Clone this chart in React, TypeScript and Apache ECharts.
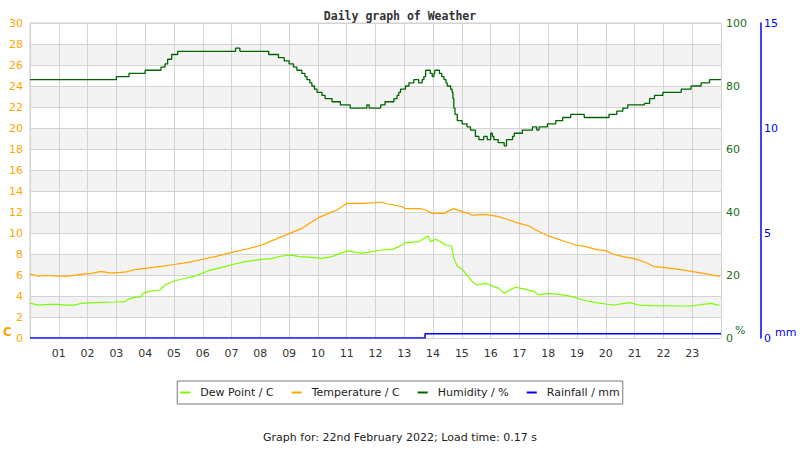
import React, { useEffect, useRef } from "react";
import * as echarts from "echarts";

const title = "Daily graph of Weather";
const footer = "Graph for: 22nd February 2022; Load time: 0.17 s";
const seriesNames = ["Dew Point / C", "Temperature / C", "Humidity / %", "Rainfall / mm"];

// [hour of day, value]
const dewPoint: [number, number][] = [
  [0, 3.3], [0.1, 3.25], [0.28, 3.14], [0.65, 3.2], [0.97, 3.2], [1.2, 3.14], [1.55, 3.14],
  [1.78, 3.3], [2.1, 3.35], [2.48, 3.4], [2.94, 3.43], [3.29, 3.46], [3.4, 3.68], [3.63, 3.87],
  [3.86, 3.94], [3.92, 4.25], [4.11, 4.41], [4.51, 4.57], [4.69, 5.05], [4.92, 5.36], [5.27, 5.62],
  [5.73, 5.9], [6.2, 6.41], [6.66, 6.73], [7.12, 7.05], [7.47, 7.27], [8.06, 7.49], [8.4, 7.59],
  [8.75, 7.81], [9.1, 7.9], [9.33, 7.75], [9.79, 7.68], [10.14, 7.59], [10.49, 7.75], [10.83, 8.13],
  [11.06, 8.29], [11.53, 8.06], [11.88, 8.22], [12.22, 8.38], [12.58, 8.44], [12.81, 8.7],
  [13.04, 9.08], [13.5, 9.17], [13.68, 9.49], [13.83, 9.71], [13.91, 9.17], [14.09, 9.4],
  [14.26, 9.17], [14.43, 8.86], [14.64, 8.76], [14.72, 7.59], [14.84, 6.86], [15.01, 6.54],
  [15.18, 6.0], [15.36, 5.36], [15.53, 5.05], [15.82, 5.2], [15.99, 5.05], [16.11, 4.89],
  [16.28, 4.73], [16.47, 4.25], [16.7, 4.63], [16.87, 4.83], [17.22, 4.63], [17.51, 4.41],
  [17.68, 4.1], [18.03, 4.25], [18.5, 4.1], [18.84, 3.94], [19.19, 3.62], [19.65, 3.37],
  [20.0, 3.24], [20.3, 3.14], [20.65, 3.3], [20.82, 3.37], [21.16, 3.14], [21.63, 3.08],
  [22.56, 3.05], [22.96, 3.05], [23.37, 3.2], [23.66, 3.3], [23.94, 3.1],
];

const temperature: [number, number][] = [
  [0, 6.1], [0.15, 6.0], [0.28, 5.9], [0.6, 5.95], [0.97, 5.9], [1.3, 5.9], [1.55, 5.97],
  [1.72, 6.06], [2.13, 6.16], [2.42, 6.32], [2.6, 6.3], [2.7, 6.2], [2.94, 6.2], [3.35, 6.3],
  [3.58, 6.48], [3.98, 6.63], [4.5, 6.8], [5.0, 7.0], [5.5, 7.2], [6.0, 7.5], [6.5, 7.8],
  [7.0, 8.15], [7.5, 8.45], [8.06, 8.86], [8.4, 9.27], [8.75, 9.65], [9.1, 10.06], [9.44, 10.44],
  [9.79, 11.08], [10.02, 11.46], [10.37, 11.87], [10.66, 12.19], [10.83, 12.5], [11.01, 12.83],
  [11.53, 12.83], [12.0, 12.9], [12.22, 12.95], [12.41, 12.76], [12.64, 12.67], [12.93, 12.5],
  [13.04, 12.32], [13.56, 12.32], [13.74, 12.19], [13.97, 11.87], [14.38, 11.87], [14.55, 12.13],
  [14.72, 12.32], [14.9, 12.13], [15.13, 11.94], [15.36, 11.71], [15.82, 11.78], [16.28, 11.56],
  [16.64, 11.24], [16.99, 10.92], [17.34, 10.67], [17.57, 10.29], [17.92, 9.81], [18.26, 9.49],
  [18.61, 9.17], [18.96, 8.86], [19.31, 8.7], [19.65, 8.44], [20.0, 8.32], [20.24, 8.0],
  [20.59, 7.75], [21.0, 7.56], [21.41, 7.17], [21.69, 6.79], [21.98, 6.73], [22.56, 6.54],
  [23.02, 6.32], [23.49, 6.1], [23.96, 5.87],
];

// humidity levels, each holding from its hour until the next one
const humidity: [number, number][] = [
  [0, 82], [3.0, 83], [3.44, 84], [4.0, 85], [4.55, 86], [4.69, 87], [4.78, 88.5], [4.92, 90],
  [5.13, 91], [7.14, 92], [7.29, 91], [8.29, 90], [8.63, 89], [8.83, 88], [9.0, 87], [9.15, 86],
  [9.27, 85], [9.44, 84], [9.55, 83], [9.62, 82], [9.72, 81], [9.79, 80], [9.88, 79], [9.97, 78],
  [10.14, 77], [10.25, 76], [10.49, 75], [10.78, 74], [11.12, 73], [11.7, 74], [11.78, 73],
  [12.18, 74], [12.33, 75], [12.64, 76], [12.75, 77], [12.81, 78], [12.87, 79], [13.04, 80],
  [13.16, 81], [13.33, 82], [13.5, 81], [13.62, 82], [13.68, 83], [13.74, 85], [13.9, 84],
  [13.97, 83], [14.03, 84], [14.06, 85], [14.22, 84], [14.3, 83], [14.38, 82], [14.45, 81],
  [14.49, 80], [14.61, 79], [14.66, 78], [14.69, 76], [14.72, 73], [14.76, 71], [14.84, 69],
  [15.01, 68], [15.18, 67], [15.3, 66], [15.47, 64], [15.59, 63], [15.76, 64], [15.88, 63],
  [16.0, 65], [16.06, 64], [16.11, 63], [16.26, 62], [16.47, 61], [16.55, 63], [16.76, 64],
  [16.82, 65], [17.1, 66], [17.45, 67], [17.6, 66], [17.68, 67], [17.97, 68], [18.26, 69],
  [18.5, 70], [18.78, 71], [19.25, 70], [20.0, 70], [20.11, 71], [20.38, 72], [20.59, 73],
  [20.76, 74], [21.34, 74.5], [21.52, 76], [21.69, 77], [21.98, 78], [22.62, 79], [22.96, 80],
  [23.31, 81], [23.6, 82], [24, 82],
];

const rainfall: [number, number][] = [
  [0, 0], [13.72, 0.2], [24, 0.2],
];

const hourTicks = ["01", "02", "03", "04", "05", "06", "07", "08", "09", "10", "11", "12",
  "13", "14", "15", "16", "17", "18", "19", "20", "21", "22", "23"];

const FONT = "DejaVu Sans";

export default function App() {
  const ref = useRef<HTMLDivElement>(null);
  useEffect(() => {
    if (!ref.current) return;
    const chart = echarts.init(ref.current, undefined, { renderer: "svg" });
    chart.setOption({
      animation: false,
      backgroundColor: "#ffffff",
      title: {
        text: title,
        left: "center",
        top: 5,
        textStyle: { fontFamily: "DejaVu Sans Mono", fontWeight: "bold", fontSize: 11.5, color: "#333" },
      },
      grid: { left: 30, right: 79, top: 23, bottom: 112, show: true, borderColor: "#cccccc", borderWidth: 1, backgroundColor: "transparent" },
      legend: {
        data: seriesNames,
        left: "center",
        top: 381,
        icon: "rect",
        itemWidth: 10,
        itemHeight: 2,
        itemGap: 18,
        padding: [6, 3, 6, 3],
        borderColor: "#777",
        borderWidth: 1,
        textStyle: { fontFamily: FONT, fontSize: 11, color: "#222", padding: [0, 0, 0, 5] },
      },
      xAxis: {
        type: "value",
        min: 0,
        max: 24,
        interval: 1,
        axisLine: { show: false },
        axisTick: { show: false },
        axisLabel: {
          fontFamily: FONT,
          fontSize: 11,
          color: "#333",
          margin: 10,
          formatter: (v: number) => (v >= 1 && v <= 23 ? hourTicks[v - 1] : ""),
        },
        splitLine: { show: true, lineStyle: { color: "#d3d3d3", width: 1 } },
      },
      yAxis: [
        {
          type: "value",
          min: 0,
          max: 30,
          interval: 2,
          position: "left",
          axisLine: { show: false },
          axisTick: { show: false },
          axisLabel: { fontFamily: FONT, fontSize: 11, color: "#ffa500", margin: 7 },
          splitLine: { show: true, lineStyle: { color: "#d3d3d3", width: 1 } },
          splitArea: { show: true, areaStyle: { color: ["#ffffff", "#f3f3f3"] } },
        },
        {
          type: "value",
          min: 0,
          max: 100,
          interval: 20,
          position: "right",
          axisLine: { show: false },
          axisTick: { show: false },
          axisLabel: { fontFamily: FONT, fontSize: 11, color: "#1a6e1a", margin: 5 },
          splitLine: { show: false },
        },
        {
          type: "value",
          min: 0,
          max: 15,
          interval: 5,
          position: "right",
          offset: 40,
          axisLine: { show: true, lineStyle: { color: "#0000ff", width: 1.5 } },
          axisTick: { show: false },
          axisLabel: { fontFamily: FONT, fontSize: 11, color: "#0000ff", margin: 3 },
          splitLine: { show: false },
        },
      ],
      series: [
        {
          name: seriesNames[0], type: "line", yAxisIndex: 0, data: dewPoint, showSymbol: false,
          color: "#7cfc00", lineStyle: { width: 1.2, color: "#7cfc00" },
        },
        {
          name: seriesNames[1], type: "line", yAxisIndex: 0, data: temperature, showSymbol: false,
          color: "#ffa500", lineStyle: { width: 1.2, color: "#ffa500" },
        },
        {
          name: seriesNames[2], type: "line", yAxisIndex: 1, data: humidity, showSymbol: false, step: "end",
          color: "#006400", lineStyle: { width: 1.3, color: "#006400" },
        },
        {
          name: seriesNames[3], type: "line", yAxisIndex: 2, data: rainfall, showSymbol: false, step: "end",
          color: "#0000ff", lineStyle: { width: 1.5, color: "#0000ff" },
        },
      ],
      graphic: [
        { type: "text", left: 3, top: 326, style: { text: "C", fontFamily: FONT, fontWeight: "bold", fontSize: 12, fill: "#ffa500" } },
        { type: "text", left: 735, top: 325, style: { text: "%", fontFamily: FONT, fontSize: 11, fill: "#1a6e1a" } },
        { type: "text", left: 775, top: 327, style: { text: "mm", fontFamily: FONT, fontSize: 11, fill: "#0000ff" } },
        { type: "text", left: "center", top: 432, style: { text: footer, fontFamily: FONT, fontSize: 11, fill: "#222" } },
      ],
    });
    return () => chart.dispose();
  }, []);
  return <div ref={ref} style={{ position: "fixed", left: 0, top: 0, width: 800, height: 450 }} />;
}
